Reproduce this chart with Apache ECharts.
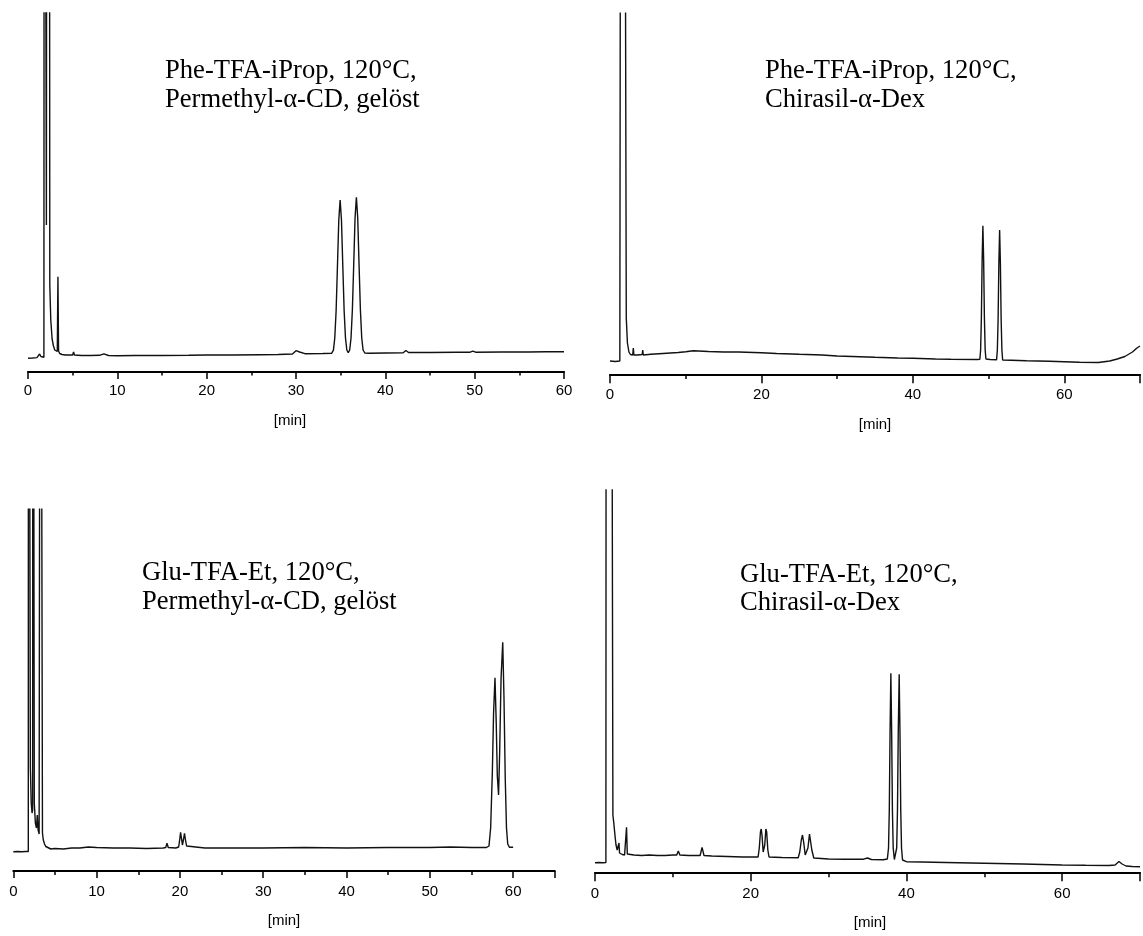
<!DOCTYPE html>
<html><head><meta charset="utf-8">
<script src="https://cdn.jsdelivr.net/npm/echarts@6/dist/echarts.min.js"></script>
<style>html,body{margin:0;padding:0;background:#fff}#c{width:1143px;height:936px}</style>
</head><body><div id="c"></div><script>
// ---- data: retention time [min], detector signal (arbitrary units, baseline ~ 0) ----
const phePermethyl = [
 [0,-3.3],[0.5,-3],[1.0,-2.6],[1.15,-1],[1.3,1],[1.45,-1.5],[1.6,-2.3],[1.78,-2.2],
 [1.82,1000],[2.0,1000],[2.06,130],[2.12,1000],[2.38,1000],[2.44,70],[2.55,35],[2.7,16],[2.85,9],[3.0,5],[3.2,3.5],[3.28,3.5],[3.35,78.3],[3.42,4],[3.55,1.5],[3.8,0.5],[4.2,0],[5.0,0],[5.1,3],[5.2,0],[6,-0.5],[7,-0.5],[8,-0.3],[8.5,1.2],[9,-0.5],[10,-0.7],[12,-0.5],[15,-0.5],[18,-0.3],[20,0],[23,0],[26,0.3],[28,0.5],[29.6,1],[30.0,4.3],[30.4,3],[31,1.3],[33,1.5],[34.0,1.8],
 [34.19,4.8],[34.34,17],[34.49,44],[34.64,89],[34.79,135],[34.94,155],[35.09,135],[35.24,89],[35.39,44],[35.54,17],[35.69,5],[35.85,2.2],
 [36.01,5],[36.16,17],[36.31,45],[36.46,90],[36.61,137],[36.76,157.7],[36.91,137],[37.06,90],[37.21,45],[37.36,17],[37.51,5],[37.7,2],[38.2,1.7],[40,2],[42.0,2.3],[42.3,4.5],[42.6,2.5],[45,2.5],[48,2.7],[49.5,2.8],[49.8,3.8],[50.1,2.8],[53,3],[56,3],[58,3.3],[60,3.3]
];
const pheChirasil = [
 [0,-3],[0.7,-3.5],[1.3,-3],[1.42,-2],[1.45,1000],[1.7,1000],[1.85,1000],[2.1,1000],[2.15,40],[2.3,15],[2.5,6],[2.7,3.5],[3.0,3],[3.08,10],[3.15,3],[3.6,3],[4.25,3.5],[4.32,8],[4.4,3],[5.4,3.7],[7,4.5],[9,5.5],[10,6.3],[11,7.3],[13,6.5],[15,6],[17,6],[20,5.3],[22,4.5],[25,3.7],[28,3],[30,2],[32,1.5],[35,0.7],[38,0],[40,-0.3],[43,-1],[45,-1.3],[48.5,-1.5],
 [48.85,-1.2],[48.95,8],[49.05,40],[49.15,98],[49.25,132.3],[49.35,98],[49.45,40],[49.55,8],[49.65,-1],[50.2,-1.5],
 [51.06,-1.8],[51.16,8],[51.26,39],[51.36,95],[51.46,128],[51.56,95],[51.66,39],[51.76,8],[51.86,-2],[53,-2.2],[55,-2.7],[58,-3.3],[60,-3.7],[62,-4.3],[64.5,-4.5],[66,-3],[67,-1],[68,1.5],[69,6],[69.6,10],[70,12]
];
const gluPermethyl = [
 [0,-3.7],[0.5,-3.5],[1.0,-3.7],[1.5,-3.5],[1.8,-3.5],
 [1.82,1000],[1.98,1000],[2.05,80],[2.15,45],[2.25,35],[2.32,38],[2.36,1000],[2.46,1000],[2.52,45],[2.65,25],[2.78,20],[2.88,33],[2.98,18],[3.1,14],[3.22,12],[3.26,1000],[3.44,1000],[3.5,15],[3.6,8],[3.75,4],[3.9,1.5],[4.1,-0.5],[4.5,-1],[5,-0.5],[6,-1],[7,0],[8,0],[9,1],[10,0.5],[12,0],[14,0],[16,-0.5],[18,0],[18.3,0.5],[18.45,4.7],[18.6,0.5],[19.5,0],[19.85,1],[20.0,10],[20.08,15.7],[20.18,10],[20.3,3],[20.42,8],[20.55,14.7],[20.65,9],[20.8,2],[21,0],[23,0],[25,0],[30,0],[35,0.5],[40,0],[45,0.5],[50,0.5],[52.5,1],[55,0.5],[56.8,0.5],
 [57.1,2],[57.3,20],[57.5,75],[57.65,135],[57.82,170.3],[57.97,125],[58.1,72],[58.25,53],[58.38,95],[58.55,170],[58.75,205.7],[58.9,150],[59.05,70],[59.2,20],[59.35,4],[59.55,0.7],[60.0,0.7]
];
const gluChirasil = [
 [0,-2.7],[0.5,-2.5],[1.0,-2.8],[1.4,-2.5],[1.45,1000],[1.6,1000],[1.75,1000],[1.95,1000],[2.05,1000],[2.25,1000],[2.3,45],[2.4,38],[2.5,30],[2.6,22],[2.7,15],[2.85,10],[3.0,8],[3.08,17],[3.15,7],[3.3,6],[3.5,5.5],[3.8,5],[3.95,6],[4.05,32.7],[4.15,6],[4.4,5],[5,5],[6,4.5],[7,5],[8,4.5],[9,4.5],[10,5],[10.5,5],[10.7,9],[10.9,5],[12,4.5],[13.5,4.5],[13.75,12.7],[14.0,4.5],[15,4],[17,3.5],[19,3],[20.95,3],
 [21.1,12],[21.25,28],[21.35,31],[21.45,25],[21.6,8],[21.7,6],[21.8,15],[21.95,31],[22.05,28],[22.2,10],[22.35,3],[24,2.5],[26.1,2.2],[26.3,8],[26.5,20],[26.65,25],[26.8,18],[27.0,5],[27.15,4],[27.35,12],[27.55,26],[27.7,24],[27.85,10],[28.1,2],[30,1],[32,0.7],[34.5,0.8],[35,2],[35.5,0.5],[37,0.3],
 [37.55,1],[37.7,12],[37.8,50],[37.9,130],[38.0,186.7],[38.1,130],[38.2,50],[38.3,12],[38.45,0.5],[38.55,0.2],
 [38.65,1],[38.75,12],[38.85,50],[38.95,128],[39.07,185.7],[39.17,128],[39.27,50],[39.37,12],[39.5,0],[40,-1.7],[42,-2],[45,-2.5],[50,-3.3],[55,-4],[60,-5],[63,-5.3],[66,-5.5],[66.8,-5],[67.3,-1.5],[67.7,-4],[68.2,-6],[69,-6.5],[70,-6.7]
];
const tickLabelsTL = [0,10,20,30,40,50,60];
const tickLabelsTR = [0,20,40,60];
const tickLabelsBL = [0,10,20,30,40,50,60];
const tickLabelsBR = [0,20,40,60];
const noteTL = ['Phe-TFA-iProp, 120°C,', 'Permethyl-α-CD, gelöst'];
const noteTR = ['Phe-TFA-iProp, 120°C,', 'Chirasil-α-Dex'];
const noteBL = ['Glu-TFA-Et, 120°C,', 'Permethyl-α-CD, gelöst'];
const noteBR = ['Glu-TFA-Et, 120°C,', 'Chirasil-α-Dex'];
const unitLabel = '[min]';

// ---- layout ----
const panels = [
 {data: phePermethyl, ticks: tickLabelsTL, note: noteTL, grid:{left:28,top:13,width:536,height:358.5}, xMax:60, major:10, minor:5, majLen:7.5, minLen:4, yMin:-16.5, yMax:342, margin:12, noteX:165, noteY:[71.5,100], unitX:290, unitY:421},
 {data: pheChirasil, ticks: tickLabelsTR, note: noteTR, grid:{left:610,top:13.3,width:535,height:361}, xMax:70, major:20, minor:10, majLen:9, minLen:4.7, yMin:-16.3, yMax:344.7, margin:13, noteX:765, noteY:[71,100.5], unitX:875, unitY:425},
 {data: gluPermethyl, ticks: tickLabelsBL, note: noteBL, grid:{left:13.3,top:509.3,width:541.5,height:361.7}, xMax:65, major:10, minor:5, majLen:7, minLen:4, yMin:-23, yMax:338.7, margin:13, noteX:142, noteY:[573.5,602.5], unitX:284, unitY:921},
 {data: gluChirasil, ticks: tickLabelsBR, note: noteBR, grid:{left:595,top:490,width:553.7,height:382.3}, xMax:70, major:20, minor:10, majLen:9, minLen:5, yMin:-12.3, yMax:370, margin:14, noteX:740, noteY:[575,603.5], unitX:870, unitY:923}
];

const sans = '"Liberation Sans", Arial, sans-serif';
const serif = '"Liberation Serif", "Times New Roman", serif';
const grids = [], xAxes = [], yAxes = [], series = [], graphics = [];
panels.forEach((p, i) => {
  grids.push(Object.assign({containLabel:false}, p.grid));
  xAxes[i] = {
    type:'value', gridIndex:i, position:'bottom', min:0, max:p.xMax, interval:p.major,
    axisLine:{show:true, onZero:false, lineStyle:{color:'#000', width:2}},
    axisTick:{show:true, inside:false, length:p.majLen, lineStyle:{color:'#000', width:1.5}},
    splitLine:{show:false}, minorTick:{show:false},
    axisLabel:{show:true, margin:p.margin, fontSize:15, fontFamily:sans, color:'#000',
      showMinLabel:true, showMaxLabel:true,
      formatter: v => (p.ticks.indexOf(v) >= 0 ? String(v) : '')}
  };
  xAxes[4 + i] = {
    type:'value', gridIndex:i, position:'bottom', min:0, max:p.xMax, interval:p.minor,
    axisLine:{show:false, onZero:false},
    axisTick:{show:true, inside:false, length:p.minLen, lineStyle:{color:'#000', width:1.5}},
    axisLabel:{show:false}, splitLine:{show:false}
  };
  yAxes.push({type:'value', gridIndex:i, min:p.yMin, max:p.yMax, show:false, splitLine:{show:false}});
  series.push({type:'line', xAxisIndex:i, yAxisIndex:i, data:p.data, symbol:'none', showSymbol:false,
    clip:true, smooth:false, lineStyle:{color:'#111', width:1.4}, silent:true});
  p.note.forEach((t, k) => graphics.push({type:'text', x:p.noteX, y:p.noteY[k], silent:true,
    style:{text:t, x:0, y:0, font:'26.6px ' + serif, fill:'#000', textAlign:'left', textVerticalAlign:'middle', verticalAlign:'middle'}}));
  graphics.push({type:'text', x:p.unitX, y:p.unitY, silent:true,
    style:{text:unitLabel, x:0, y:0, font:'15px ' + sans, fill:'#000', textAlign:'center', textVerticalAlign:'middle', verticalAlign:'middle'}});
});

const chart = echarts.init(document.getElementById('c'), null, {renderer:'canvas'});
chart.setOption({
  backgroundColor:'#fff', animation:false,
  grid:grids, xAxis:xAxes, yAxis:yAxes, series:series, graphic:graphics
});
</script></body></html>
